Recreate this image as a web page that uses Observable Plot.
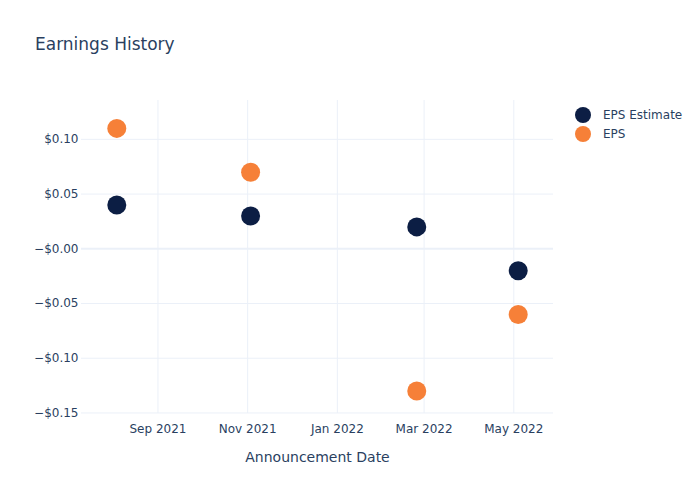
<!DOCTYPE html>
<html>
<head>
<meta charset="utf-8">
<script src="https://cdn.jsdelivr.net/npm/d3@7"></script>
<script src="https://cdn.jsdelivr.net/npm/@observablehq/plot@0.6"></script>
<style>
  html, body { margin: 0; padding: 0; background: #fff; }
  #wrap { position: relative; width: 700px; height: 500px; font-family: "DejaVu Sans", Verdana, sans-serif; color: #2a3f5f; }
  #title { position: absolute; left: 35px; top: 34px; font-size: 17px; line-height: 20px; }
  #legend { position: absolute; left: 575px; top: 105px; font-size: 12px; }
  .item { display: flex; align-items: center; height: 19px; }
  .dot { width: 16px; height: 16px; border-radius: 50%; margin-right: 12px; }
  svg { display: block; }
</style>
</head>
<body>
<div id="wrap">
  <div id="chart"></div>
  <div id="title">Earnings History</div>
  <div id="legend"></div>
</div>
<script>
const dates = ["2021-08-04", "2021-11-03", "2022-02-24", "2022-05-04"];
const epsEstimate = [0.04, 0.03, 0.02, -0.02];
const eps = [0.11, 0.07, -0.13, -0.06];
const seriesNames = ["EPS Estimate", "EPS"];
const seriesColors = ["#0c1e44", "#f68038"];
const yTicks = [-0.15, -0.10, -0.05, 0, 0.05, 0.10];
const yTickLabels = ["\u2212$0.15", "\u2212$0.10", "\u2212$0.05", "\u2212$0.00", "$0.05", "$0.10"];
const xTicks = ["2021-09-01", "2021-11-01", "2022-01-01", "2022-03-01", "2022-05-01"];
const xTickLabels = ["Sep 2021", "Nov 2021", "Jan 2022", "Mar 2022", "May 2022"];

const parse = s => new Date(s + "T00:00:00Z");
const rows = [];
dates.forEach((d, i) => {
  rows.push({date: parse(d), value: epsEstimate[i], series: seriesNames[0]});
  rows.push({date: parse(d), value: eps[i], series: seriesNames[1]});
});
const xTickDates = xTicks.map(parse);
const xLabelMap = new Map(xTickDates.map((d, i) => [+d, xTickLabels[i]]));
const yLabelMap = new Map(yTicks.map((v, i) => [v, yTickLabels[i]]));
const grid = "#ebf0f8";

const chart = Plot.plot({
  width: 700,
  height: 500,
  marginLeft: 81,
  marginRight: 147,
  marginTop: 100,
  marginBottom: 87,
  style: {fontFamily: "DejaVu Sans, Verdana, sans-serif", fontSize: "12px", color: "#2a3f5f", background: "#fff"},
  x: {type: "utc", domain: [parse("2021-07-11"), parse("2022-05-28")]},
  y: {domain: [-0.1505, 0.1355]},
  color: {domain: seriesNames, range: seriesColors},
  marks: [
    Plot.gridX(xTickDates, {stroke: grid, strokeOpacity: 1, strokeWidth: 1}),
    Plot.gridY(yTicks.filter(v => v !== 0), {stroke: grid, strokeOpacity: 1, strokeWidth: 1}),
    Plot.ruleY([0], {stroke: grid, strokeWidth: 2}),
    Plot.axisX(xTickDates, {tickSize: 0, tickPadding: 11, fontSize: 12, fill: "#2a3f5f",
      tickFormat: d => xLabelMap.get(+d), label: null}),
    Plot.axisY(yTicks, {tickSize: 0, tickPadding: 3, fontSize: 12, fill: "#2a3f5f",
      tickFormat: v => yLabelMap.get(v), label: null}),
    Plot.text(["Announcement Date"], {frameAnchor: "bottom", dy: 48, fontSize: 14, fill: "#2a3f5f"}),
    Plot.dot(rows, {x: "date", y: "value", fill: "series", r: 9.5, stroke: "none"})
  ]
});
document.getElementById("chart").appendChild(chart);

const legend = document.getElementById("legend");
seriesNames.forEach((n, i) => {
  const it = document.createElement("div");
  it.className = "item";
  const dot = document.createElement("span");
  dot.className = "dot";
  dot.style.background = seriesColors[i];
  const t = document.createElement("span");
  t.textContent = n;
  it.appendChild(dot); it.appendChild(t);
  legend.appendChild(it);
});
</script>
</body>
</html>
